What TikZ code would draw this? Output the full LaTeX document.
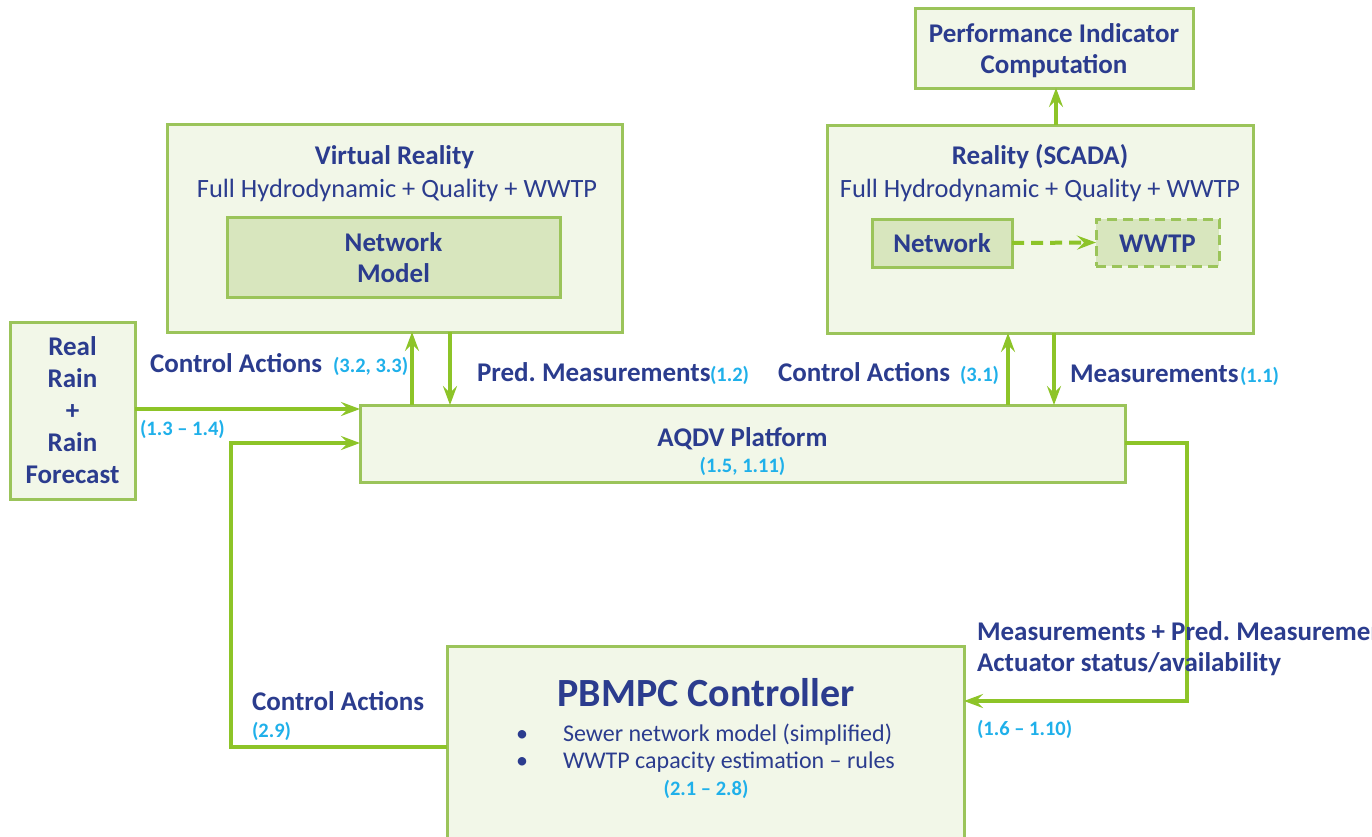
\documentclass[tikz,border=0pt]{standalone}
\usepackage{fontspec}
\setmainfont{Carlito}
\usetikzlibrary{arrows.meta,calc}
\frenchspacing

\definecolor{boxline}{HTML}{9BC45A}
\definecolor{boxfill}{HTML}{F2F7E8}
\definecolor{innerfill}{HTML}{D8E6BE}
\definecolor{wire}{HTML}{8DC428}
\definecolor{ink}{HTML}{2B3C8E}
\definecolor{refc}{HTML}{1FB0EA}

\tikzset{
  box/.style={draw=boxline, fill=boxfill, line width=3pt, inner sep=0pt, outer sep=0pt},
  innerbox/.style={draw=boxline, fill=innerfill, line width=3pt, inner sep=0pt, outer sep=0pt},
  hd/.style={font=\fontsize{27}{32}\selectfont\bfseries, text=ink, inner sep=0pt, outer sep=0pt},
  body/.style={font=\fontsize{26.4}{32}\selectfont, text=ink, inner sep=0pt, outer sep=0pt},
  small/.style={font=\fontsize{24}{28}\selectfont, text=ink, inner sep=0pt, outer sep=0pt},
  ref/.style={font=\fontsize{20.5}{24}\selectfont\bfseries, text=refc, inner sep=0pt, outer sep=0pt},
  big/.style={font=\fontsize{40}{46}\selectfont\bfseries, text=ink, inner sep=0pt, outer sep=0pt},
  arr/.style={draw=wire, line width=4pt, -{Stealth[length=19pt,width=14pt,inset=7pt]}},
}

\begin{document}
\begin{tikzpicture}[x=1pt,y=-1pt]
\useasboundingbox (0,0) rectangle (1372,836);
\fill[white] (0,0) rectangle (1372,836);
\begin{scope}
\clip (0,0) rectangle (1372,836);

% ---------- boxes ----------
\node[box, minimum width=278pt, minimum height=80pt] (perf) at (1054,48) {};
\node[box, minimum width=426pt, minimum height=208pt] (scada) at (1040,229) {};
\node[innerbox, minimum width=140pt, minimum height=48pt] (net) at (942,243) {};
\node[innerbox, dash pattern=on 10pt off 6pt, minimum width=123pt, minimum height=47pt] (wwtp) at (1157.5,242.5) {};
\node[box, minimum width=455pt, minimum height=208pt] (vr) at (394.5,228) {};
\node[innerbox, minimum width=333pt, minimum height=80pt] (nm) at (393.5,257) {};
\node[box, minimum width=125pt, minimum height=177pt] (rain) at (72.5,410.5) {};
\node[box, minimum width=765pt, minimum height=77pt] (aqdv) at (742.5,443.5) {};
\node[box, minimum width=517pt, minimum height=254pt] (mpc) at (705.5,773) {};

% ---------- box texts ----------
\node[hd, anchor=base] (perf1) at (1054,42) {Performance Indicator};
\node[hd, anchor=base] (perf2) at (1054,73) {Computation};

\node[hd, anchor=base] (scadat) at (1040,164) {Reality (SCADA)};
\node[body, anchor=base] (scadab) at (1040,197) {Full Hydrodynamic + Quality + WWTP};
\node[hd, anchor=base] (nett) at (942,252) {Network};
\node[hd, anchor=base] (wwtpt) at (1157.5,252) {WWTP};

\node[hd, anchor=base] (vrt) at (394.5,164) {Virtual Reality};
\node[body, anchor=base] (vrb) at (397,197) {Full Hydrodynamic + Quality + WWTP};
\node[hd, anchor=base] (nm1) at (393.5,251) {Network};
\node[hd, anchor=base] (nm2) at (393.5,282) {Model};

\node[hd, align=center] (raint) at (72.5,410) {Real\\Rain\\+\\Rain\\Forecast};

\node[hd, anchor=base] (aqdvt) at (742.5,446) {AQDV Platform};
\node[ref, anchor=base] (aqdvr) at (742.5,472) {(1.5, 1.11)};

\node[big, anchor=base] (mpct) at (706,706) {PBMPC Controller};
\node[small, anchor=base west] (b1) at (563,741) {Sewer network model (simplified)};
\node[small, anchor=base west] (b2) at (563,768) {WWTP capacity estimation -- rules};
\node[small, anchor=base] (d1) at (522,741) {\textbullet};
\node[small, anchor=base] (d2) at (522,768) {\textbullet};
\node[ref, anchor=base] (mpcr) at (706,795) {(2.1 -- 2.8)};

% ---------- connectors ----------
\coordinate (c1) at (412,0);
\coordinate (c2) at (450,0);
\coordinate (c3) at (1008,0);
\coordinate (c4) at (1054,0);
\coordinate (c5) at (1056,0);
\coordinate (yr) at (0,409);
\coordinate (yl) at (0,443);
\coordinate (rx) at (1187,0);
\coordinate (lx) at (231,0);
\coordinate (ym) at (0,701);
\coordinate (yc) at (0,747);

\draw[arr, dash pattern=on 12pt off 7pt] (net.east) -- (wwtp.west);
\draw[arr] (scada.north -| c5) -- (perf.south -| c5);
\draw[arr] (aqdv.north -| c1) -- (vr.south -| c1);
\draw[arr] (vr.south -| c2) -- (aqdv.north -| c2);
\draw[arr] (aqdv.north -| c3) -- (scada.south -| c3);
\draw[arr] (scada.south -| c4) -- (aqdv.north -| c4);
\draw[arr] (rain.east |- yr) -- (aqdv.west |- yr);
\draw[arr] (aqdv.east |- yl) -| (rx |- ym) -- (mpc.east |- ym);
\draw[arr] (mpc.west |- yc) -| (lx |- yl) -- (aqdv.west |- yl);

% ---------- connector labels ----------
\node[hd, anchor=base west] (l1) at (150,372) {Control Actions};
\node[ref, anchor=base west] (l1r) at (333,372) {(3.2, 3.3)};
\node[ref, anchor=base west] (l2r) at (140,435) {(1.3 -- 1.4)};
\node[hd, anchor=base west] (l3) at (477,381) {Pred. Measurements};
\node[ref, anchor=base west] (l3r) at (710,381) {(1.2)};
\node[hd, anchor=base west] (l4) at (778,381) {Control Actions};
\node[ref, anchor=base west] (l4r) at (960,381) {(3.1)};
\node[hd, anchor=base west] (l5) at (1070,382) {Measurements};
\node[ref, anchor=base west] (l5r) at (1240,382) {(1.1)};
\node[hd, anchor=base west] (l6) at (977,640) {Measurements + Pred. Measurements};
\node[hd, anchor=base west] (l6b) at (977,671) {Actuator status/availability};
\node[ref, anchor=base west] (l6r) at (977,735) {(1.6 -- 1.10)};
\node[hd, anchor=base west] (l7) at (252,710) {Control Actions};
\node[ref, anchor=base west] (l7r) at (252,737) {(2.9)};
\end{scope}
\end{tikzpicture}
\end{document}
